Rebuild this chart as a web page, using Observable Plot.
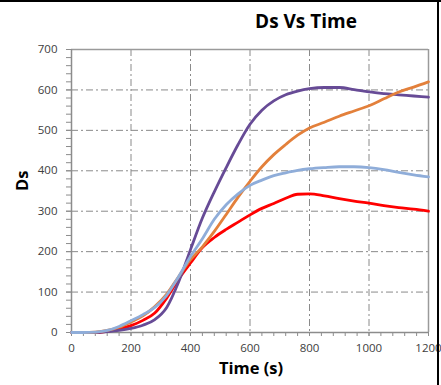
<!DOCTYPE html>
<html>
<head>
<meta charset="utf-8">
<script src="https://cdn.jsdelivr.net/npm/d3@7"></script>
<script src="https://cdn.jsdelivr.net/npm/@observablehq/plot@0.6"></script>
<style>
  html, body { margin: 0; padding: 0; background: #fff; }
  #wrap { position: relative; width: 441px; height: 385px; overflow: hidden; }
  .edge { position: absolute; background: #000; }
</style>
</head>
<body>
<div id="wrap"></div>
<script>
const timeS = [0, 40, 80, 120, 160, 200, 240, 280, 320, 360, 400, 440, 480, 520, 560, 600, 640, 680, 720, 760, 800, 850, 900, 950, 1000, 1050, 1100, 1150, 1200];
const dsRed    = [0, 0, 0, 3, 9, 17, 30, 48, 85, 132, 172, 210, 235, 255, 273, 291, 307, 319, 332, 342, 343, 338, 331, 325, 320, 314, 309, 305, 300];
const dsOrange = [0, 0, 1, 5, 13, 26, 41, 64, 95, 138, 180, 212, 250, 292, 335, 374, 410, 440, 465, 488, 506, 520, 535, 548, 561, 578, 595, 607, 620];
const dsBlue   = [0, 0, 1, 5, 15, 29, 44, 62, 92, 138, 188, 232, 280, 316, 343, 364, 377, 388, 395, 401, 405, 408, 410, 410, 408, 403, 396, 390, 385];
const dsPurple = [0, 0, 0, 2, 5, 10, 18, 32, 62, 125, 205, 283, 348, 408, 465, 515, 550, 573, 588, 597, 603, 606, 606, 601, 595, 591, 588, 585, 582];
const seriesNames = ["Series A", "Series B", "Series C", "Series D"];
const seriesColors = ["#ff0000", "#674b96", "#e3803b", "#8fadd9"];
const xMajor = [0, 200, 400, 600, 800, 1000, 1200];
const xMinor = d3.range(0, 1201, 40);
const yMajor = [0, 100, 200, 300, 400, 500, 600, 700];
const yMinor = d3.range(0, 701, 20);
const xGrid = [200, 400, 600, 800, 1000];
const yGrid = [100, 200, 300, 400, 500, 600];
const titleText = "Ds Vs Time";
const xLabel = "Time (s)";
const yLabel = "Ds";

const seriesValues = [dsRed, dsPurple, dsOrange, dsBlue];
const rows = seriesNames.flatMap((name, k) => timeS.map((t, i) => ({series: name, t, v: seriesValues[k][i]})));

const axisColor = "#8c8c8c";
const gridColor = "#8a8a8a";
const font = "'Open Sans', 'DejaVu Sans', sans-serif";

const chart = Plot.plot({
  width: 441,
  height: 385,
  marginLeft: 71,
  marginRight: 13,
  marginTop: 49,
  marginBottom: 53,
  style: {fontFamily: font, background: "transparent", overflow: "visible"},
  x: {domain: [0, 1200], label: null},
  y: {domain: [0, 700], label: null},
  color: {domain: seriesNames, range: seriesColors},
  marks: [
    Plot.ruleX(xGrid, {stroke: gridColor, strokeWidth: 1, strokeDasharray: "7,3,2,3"}),
    Plot.ruleY(yGrid, {stroke: gridColor, strokeWidth: 1, strokeDasharray: "7,3,2,3"}),
    Plot.ruleY([700], {stroke: "#9a9a9a", strokeWidth: 1.5}),
    Plot.ruleX([1200], {stroke: "#9a9a9a", strokeWidth: 1.5}),
    Plot.axisX({ticks: xMinor, tickSize: 4, text: null, stroke: axisColor, label: null}),
    Plot.axisY({ticks: yMinor, tickSize: 5, text: null, stroke: axisColor, label: null}),
    Plot.axisX({ticks: xMajor, tickSize: 4, tickPadding: 7, tickFormat: d => String(d), stroke: axisColor, fill: "#404040", fontSize: 11.5, label: null}),
    Plot.axisY({ticks: yMajor, tickSize: 5, tickPadding: 9, tickFormat: d => String(d), stroke: axisColor, fill: "#404040", fontSize: 11.5, label: null}),
    Plot.ruleX([0], {stroke: axisColor, strokeWidth: 1.5}),
    Plot.ruleY([0], {stroke: axisColor, strokeWidth: 1.5}),
    Plot.line(rows, {x: "t", y: "v", z: "series", stroke: "series", strokeWidth: 2.8, curve: "monotone-x", strokeLinejoin: "round"}),
    Plot.text([titleText], {frameAnchor: "top", dx: 56, dy: -35, fontSize: 19, fontWeight: "bold", fill: "#000"}),
    Plot.text([xLabel], {frameAnchor: "bottom", dx: 1, dy: 41, fontSize: 16.5, fontWeight: "bold", fill: "#000"}),
    Plot.text([yLabel], {frameAnchor: "left", dx: -49, dy: 0, rotate: -90, fontSize: 16.5, fontWeight: "bold", fill: "#000"})
  ]
});

const wrap = document.getElementById("wrap");
wrap.appendChild(chart);
const edgeTop = document.createElement("div");
edgeTop.className = "edge";
edgeTop.style.cssText = "left:0;top:0;width:441px;height:2px;";
wrap.appendChild(edgeTop);
const edgeRight = document.createElement("div");
edgeRight.className = "edge";
edgeRight.style.cssText = "left:437px;top:0;width:2px;height:385px;";
wrap.appendChild(edgeRight);
</script>
</body>
</html>
